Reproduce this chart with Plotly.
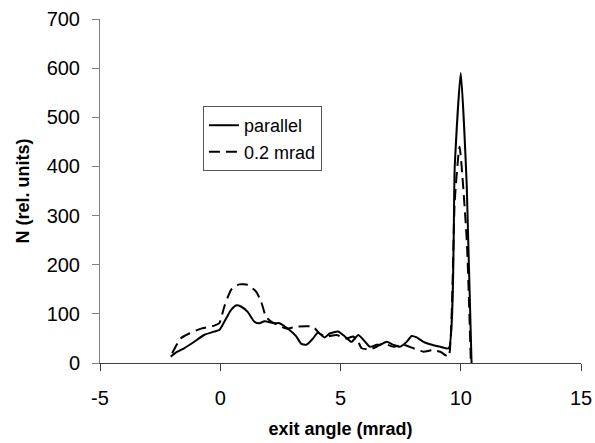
import plotly.graph_objects as go

# Data
x_parallel = [-2.06, -1.78, -1.5, -1.09, -0.67, -0.25, -0.04, 0.17, 0.45, 0.65, 0.86, 1.14, 1.42, 1.63,
              1.84, 2.25, 2.46, 2.88, 3.16, 3.37, 3.58, 3.86, 4.06, 4.34, 4.55, 4.9, 5.18, 5.46, 5.74,
              6.08, 6.22, 6.5, 6.64, 6.92, 7.2, 7.47, 7.75, 7.96, 8.17, 8.45, 8.8, 9.15, 9.5, 9.75,
              10.0, 10.25, 10.45]
y_parallel = [13, 23, 30, 43, 57, 64, 67, 84, 108, 117, 115, 104, 84, 81,
              85, 81, 81, 67, 54, 39, 37, 50, 62, 52, 60, 64, 54, 43, 57,
              40, 33, 37, 37, 43, 37, 33, 43, 55, 52, 43, 37, 33, 30, 400,
              590, 360, 0]

x_div = [-2.0, -1.65, -1.29, -0.8, -0.25, -0.04, 0.17, 0.45, 0.79, 1.14, 1.49, 1.7, 1.9, 2.1,
         2.74, 3.16, 3.58, 3.86, 4.13, 4.41, 4.83, 5.25, 5.53, 5.74, 5.88, 6.22, 6.5, 6.78,
         7.2, 7.61, 8.03, 8.45, 8.8, 9.15, 9.36, 9.5, 9.75, 9.95, 10.25, 10.42]
y_div = [20, 50, 60, 70, 76, 81, 115, 149, 160, 159, 145, 125, 94, 85,
         70, 74, 75, 74, 60, 54, 57, 50, 54, 43, 30, 28, 33, 40,
         33, 37, 30, 23, 26, 23, 16, 13, 330, 440, 250, 0]

x_ticks = [-5, 0, 5, 10, 15]
y_ticks = [0, 100, 200, 300, 400, 500, 600, 700]

FONT = "Liberation Sans, Arial, sans-serif"

fig = go.Figure()
fig.add_trace(go.Scatter(x=x_parallel, y=y_parallel, mode="lines", name="parallel",
                         line=dict(color="black", width=2, shape="spline", smoothing=0.5)))
fig.add_trace(go.Scatter(x=x_div, y=y_div, mode="lines", name="0.2 mrad",
                         line=dict(color="black", width=2, dash="11px,6px", shape="spline", smoothing=0.5)))

fig.update_layout(
    width=595, height=443,
    margin=dict(l=100, r=14, t=19, b=80),
    paper_bgcolor="white", plot_bgcolor="white",
    font=dict(family=FONT, color="black"),
    showlegend=True,
    legend=dict(x=0.214, y=0.747, xanchor="left", yanchor="top",
                bordercolor="#555", borderwidth=1, bgcolor="white",
                font=dict(size=18, family=FONT), tracegroupgap=0),
    xaxis=dict(range=[-5, 15], tickvals=x_ticks, ticktext=[str(v) for v in x_ticks],
               showline=True, linecolor="#404040", linewidth=1, mirror=False,
               ticks="outside", ticklen=7, tickcolor="#404040", showgrid=False, zeroline=False,
               tickfont=dict(size=20, family=FONT), ticklabelstandoff=10,
               title=dict(text="<b>exit angle (mrad)</b>", font=dict(size=18, family=FONT), standoff=14),
               automargin=False),
    yaxis=dict(range=[0, 700], tickvals=y_ticks, ticktext=[str(v) for v in y_ticks],
               showline=True, linecolor="#808080", linewidth=1, mirror=False,
               ticks="outside", ticklen=7, tickcolor="#808080", showgrid=False, zeroline=False,
               tickfont=dict(size=20, family=FONT), ticklabelstandoff=8,
               title=dict(text="<b>N (rel. units)</b>", font=dict(size=18, family=FONT), standoff=12),
               automargin=False),
)

fig.write_html("out.html")
